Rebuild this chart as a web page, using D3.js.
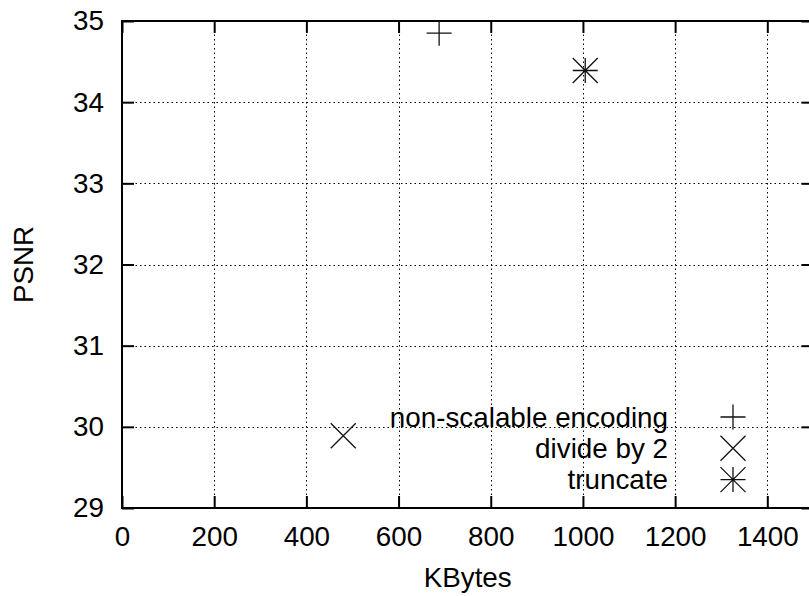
<!DOCTYPE html>
<html>
<head>
<meta charset="utf-8">
<script src="https://cdn.jsdelivr.net/npm/d3@7"></script>
<style>
  html, body { margin: 0; padding: 0; background: #fff; }
  svg { display: block; }
  text { font-family: "Liberation Sans", Arial, Helvetica, sans-serif; fill: #000; }
</style>
</head>
<body>
<svg id="chart" width="809" height="596"></svg>
<script>
// ---- data ----
const seriesNames = ["non-scalable encoding", "divide by 2", "truncate"];
const seriesSymbols = ["plus", "cross", "star"];
const kbytes = [688, 480, 1005];
const psnr = [34.85, 29.89, 34.39];
const xTicks = [0, 200, 400, 600, 800, 1000, 1200, 1400];
const yTicks = [29, 30, 31, 32, 33, 34, 35];
const xDomain = [0, 1500];
const yDomain = [29, 35];
const xLabel = "KBytes";
const yLabel = "PSNR";

// ---- layout ----
const W = 809, H = 596;
const pLeft = 122, pRight = 813.4, pTop = 21, pBottom = 508;
const fontSize = 27.8;
const tickLen = 12;

const svg = d3.select("#chart");
const x = d3.scaleLinear().domain(xDomain).range([pLeft, pRight]);
const y = d3.scaleLinear().domain(yDomain).range([pBottom, pTop]);

// grid
const grid = svg.append("g").attr("stroke", "#000").attr("stroke-width", 1)
  .attr("stroke-dasharray", "1.5,3").attr("fill", "none");
grid.selectAll("line.gx").data(xTicks.filter(v => v > xDomain[0] && v < xDomain[1]))
  .join("line").attr("class", "gx")
  .attr("x1", d => Math.round(x(d)) + 0.5).attr("x2", d => Math.round(x(d)) + 0.5)
  .attr("y1", pTop).attr("y2", pBottom);
grid.selectAll("line.gy").data(yTicks.filter(v => v > yDomain[0] && v < yDomain[1]))
  .join("line").attr("class", "gy")
  .attr("y1", d => Math.round(y(d)) + 0.5).attr("y2", d => Math.round(y(d)) + 0.5)
  .attr("x1", pLeft).attr("x2", pRight);

function styleAxis(g, showText) {
  g.select(".domain").remove();
  g.selectAll(".tick line").attr("stroke", "#000").attr("stroke-width", 2);
  if (!showText) g.selectAll(".tick text").remove();
  else g.selectAll(".tick text").attr("font-size", fontSize)
    .attr("font-family", "'Liberation Sans', Arial, Helvetica, sans-serif").attr("fill", "#000");
}

// bottom axis
svg.append("g").attr("transform", `translate(0,${pBottom})`)
  .call(d3.axisBottom(x).tickValues(xTicks).tickFormat(d3.format("d"))
    .tickSizeInner(-tickLen).tickSizeOuter(0).tickPadding(18))
  .call(g => styleAxis(g, true));
// top mirror
svg.append("g").attr("transform", `translate(0,${pTop})`)
  .call(d3.axisTop(x).tickValues(xTicks).tickSizeInner(-tickLen).tickSizeOuter(0))
  .call(g => styleAxis(g, false));
// left axis
svg.append("g").attr("transform", `translate(${pLeft},0)`)
  .call(d3.axisLeft(y).tickValues(yTicks).tickFormat(d3.format("d"))
    .tickSizeInner(-tickLen).tickSizeOuter(0).tickPadding(18))
  .call(g => styleAxis(g, true));
// right mirror
svg.append("g").attr("transform", `translate(${pRight},0)`)
  .call(d3.axisRight(y).tickValues(yTicks).tickSizeInner(-tickLen).tickSizeOuter(0))
  .call(g => styleAxis(g, false));

// border
svg.append("rect").attr("x", pLeft).attr("y", pTop)
  .attr("width", pRight - pLeft).attr("height", pBottom - pTop)
  .attr("fill", "none").attr("stroke", "#000").attr("stroke-width", 2);

// axis labels
svg.append("text").attr("x", (pLeft + pRight) / 2).attr("y", 587)
  .attr("text-anchor", "middle").attr("font-size", fontSize).text(xLabel);
svg.append("text").attr("transform", `translate(33,${(pTop + pBottom) / 2}) rotate(-90)`)
  .attr("text-anchor", "middle").attr("font-size", fontSize).text(yLabel);

// markers
const ms = 12.5;
function drawSymbol(g, type, cx, cy) {
  const p = d3.path();
  if (type === "plus" || type === "star") {
    p.moveTo(cx - ms, cy); p.lineTo(cx + ms, cy);
    p.moveTo(cx, cy - ms); p.lineTo(cx, cy + ms);
  }
  if (type === "cross" || type === "star") {
    p.moveTo(cx - ms, cy - ms); p.lineTo(cx + ms, cy + ms);
    p.moveTo(cx - ms, cy + ms); p.lineTo(cx + ms, cy - ms);
  }
  g.append("path").attr("d", p.toString()).attr("fill", "none")
    .attr("stroke", "#111").attr("stroke-width", 1.3);
}

const pts = svg.append("g");
kbytes.forEach((v, i) => drawSymbol(pts, seriesSymbols[i], x(v), y(psnr[i])));

// legend
const legY0 = 417, legDy = 31.3, legTextX = 668, legSymX = 733;
const leg = svg.append("g");
seriesNames.forEach((name, i) => {
  const cy = legY0 + i * legDy;
  leg.append("text").attr("x", legTextX).attr("y", cy).attr("dy", "0.35em")
    .attr("text-anchor", "end").attr("font-size", fontSize).text(name);
  drawSymbol(leg, seriesSymbols[i], legSymX, cy);
});
</script>
</body>
</html>
